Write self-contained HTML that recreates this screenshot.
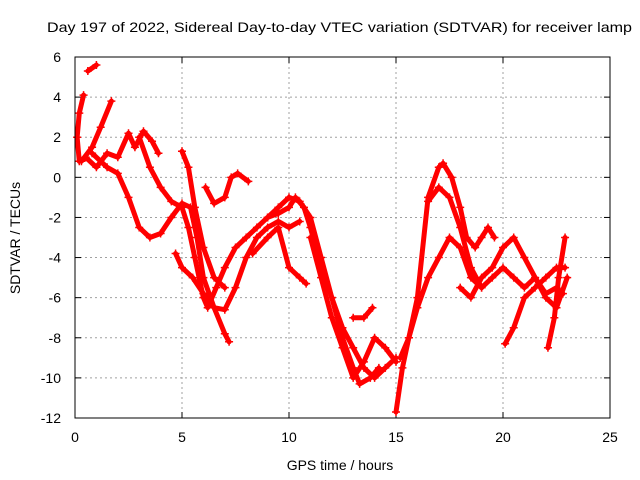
<!DOCTYPE html>
<html><head><meta charset="utf-8"><style>
body{margin:0;background:#fff;}
svg{display:block;font-family:"Liberation Sans",sans-serif;}
</style></head><body>
<svg id="chart" width="640" height="480">
<text x="47" y="32" font-size="14" textLength="585" lengthAdjust="spacingAndGlyphs">Day 197 of 2022, Sidereal Day-to-day VTEC variation (SDTVAR) for receiver lamp</text>
<text x="340" y="470" font-size="14" text-anchor="middle">GPS time / hours</text>
<text transform="translate(20,238) rotate(-90)" font-size="14" text-anchor="middle">SDTVAR / TECUs</text>
<g id="grid"></g><g id="series"></g>
<rect x="75" y="57" width="535" height="361" fill="none" stroke="#000"/>
</svg>
<script>
const xTicks=[0,5,10,15,20,25];
const yTicks=[6,4,2,0,-2,-4,-6,-8,-10,-12];
const traces=[
[[0.2,0.8],[0.1,2],[0.2,3.2],[0.4,4.1]],
[[0.6,5.3],[1.0,5.6]],
[[0.3,0.8],[0.8,1.5],[1.2,2.5],[1.7,3.8]],
[[0.5,1.0],[1.0,0.5],[1.5,1.2],[2.0,1.0],[2.5,2.2],[2.8,1.5],[3.2,2.3],[3.6,1.8],[3.9,1.2]],
[[0.8,1.2],[1.5,0.5],[2.0,0.2],[2.5,-1],[3.0,-2.5],[3.5,-3],[4.0,-2.8],[4.5,-2],[5.0,-1.3],[5.4,-1.5],[5.7,-3],[6.0,-5],[6.5,-6.5],[7.0,-7.8],[7.2,-8.2]],
[[3.0,2],[3.5,0.5],[4.0,-0.5],[4.5,-1.2],[5.0,-1.5],[5.3,-2.5],[5.6,-4],[6,-6],[6.2,-6.5],[6.6,-5.5],[7,-4.5],[7.5,-3.5],[8,-3],[8.5,-2.5],[9,-2],[9.5,-1.8],[10,-1.5],[10.3,-1.0],[10.7,-1.5],[11,-2.5],[11.5,-4.5],[12,-6],[12.5,-8],[13,-9.5],[13.3,-10.3],[13.8,-10],[14.2,-9.5]],
[[5.0,1.3],[5.3,0.5],[5.6,-1.5],[6,-3.5],[6.5,-5],[7,-5.5]],
[[4.7,-3.8],[5,-4.5],[5.5,-5],[6,-5.8],[6.5,-6.5],[7,-6.6],[7.5,-5.5],[8,-4],[8.5,-3],[9,-2.5],[9.5,-2.2],[10,-2.5],[10.5,-2.2]],
[[6.1,-0.5],[6.5,-1.3],[7,-1],[7.3,0],[7.6,0.2],[8.1,-0.2]],
[[8.3,-3.8],[9,-3],[9.5,-2.5],[10,-4.5],[10.5,-5],[10.8,-5.3]],
[[9,-2],[9.5,-1.5],[10,-1.0],[10.5,-1.2],[11,-2],[11.5,-4],[12,-6],[12.5,-7.5],[13,-8.5],[13.5,-9.5],[14,-10],[14.5,-9.5],[15,-9]],
[[11,-3],[11.5,-5],[12,-7],[12.5,-8.5],[13,-10],[13.5,-9.2],[14,-8],[14.5,-8.5],[15,-9.2]],
[[13,-7],[13.5,-7],[13.9,-6.5]],
[[15,-11.7],[15.3,-9.5],[15.6,-8],[16,-6],[16.5,-1],[17,0.5],[17.2,0.7],[17.6,0],[18,-1.5],[18.3,-3],[18.7,-3.5],[19,-3],[19.3,-2.5],[19.6,-3]],
[[15.2,-9],[15.6,-8],[16,-6.5],[16.5,-5],[17,-4],[17.5,-3],[18,-3.5],[18.5,-5],[19,-5.5],[19.5,-5],[20,-4.5],[20.5,-5],[21,-5.5],[21.5,-5],[22,-5.8],[22.5,-5.5],[22.8,-5.8]],
[[16.5,-1.2],[17,-0.5],[17.5,-1],[18,-2.5],[18.5,-4.5],[19,-5.5]],
[[18,-5.5],[18.5,-6],[19,-5],[19.5,-4.5],[20,-3.5],[20.5,-3],[21,-4],[21.5,-5],[22,-6],[22.5,-6.5],[23,-5]],
[[20.1,-8.3],[20.5,-7.5],[21,-6],[21.5,-5.5],[22,-5],[22.5,-4.5],[22.9,-4.5]],
[[22.1,-8.5],[22.4,-7],[22.6,-5],[22.9,-3]]
];
const L=75,R=610,T=57,B=418;
const xs=v=>L+(v-0)/25*(R-L);
const ys=v=>T+(6-v)/18*(B-T);
const NS="http://www.w3.org/2000/svg";
const g=document.getElementById('grid'),s=document.getElementById('series');
function mk(t,a,p){const e=document.createElementNS(NS,t);for(const k in a)e.setAttribute(k,a[k]);p.appendChild(e);return e;}
xTicks.forEach(v=>{
  const x=xs(v);
  if(v>0&&v<25){const l=mk('line',{x1:x,x2:x,y1:T,y2:B,stroke:'#a0a0a0','stroke-dasharray':'2,3'},g);
  
  }
  mk('line',{x1:x,x2:x,y1:B,y2:B-6,stroke:'#000'},g);mk('line',{x1:x,x2:x,y1:T,y2:T+6,stroke:'#000'},g);
  const t=mk('text',{x:x,y:B+24,'font-size':14,'text-anchor':'middle'},g);t.textContent=v;
  
  
});
yTicks.forEach(v=>{
  const y=ys(v);
  if(v<6&&v>-12){const l=mk('line',{x1:L,x2:R,y1:y,y2:y,stroke:'#a0a0a0','stroke-dasharray':'2,3'},g);
  
  }
  mk('line',{x1:L,x2:L+6,y1:y,y2:y,stroke:'#000'},g);mk('line',{x1:R,x2:R-6,y1:y,y2:y,stroke:'#000'},g);
  const t=mk('text',{x:L-14,y:y+5,'font-size':14,'text-anchor':'end'},g);t.textContent=v;
  
  
});
traces.forEach((tr,i)=>{
  const pl=mk('polyline',{points:tr.map(p=>xs(p[0])+','+ys(p[1])).join(' '),fill:'none',stroke:'#ff0000','stroke-width':5,'stroke-linejoin':'round','stroke-linecap':'round'},s);
  
  
  tr.forEach(p=>{
    const x=xs(p[0]),y=ys(p[1]);
    const m=mk('path',{d:`M${x-4},${y}H${x+4}M${x},${y-4}V${y+4}`,stroke:'#ff0000','stroke-width':1.5},s);
    
    
  });
});
</script>
</body></html>
